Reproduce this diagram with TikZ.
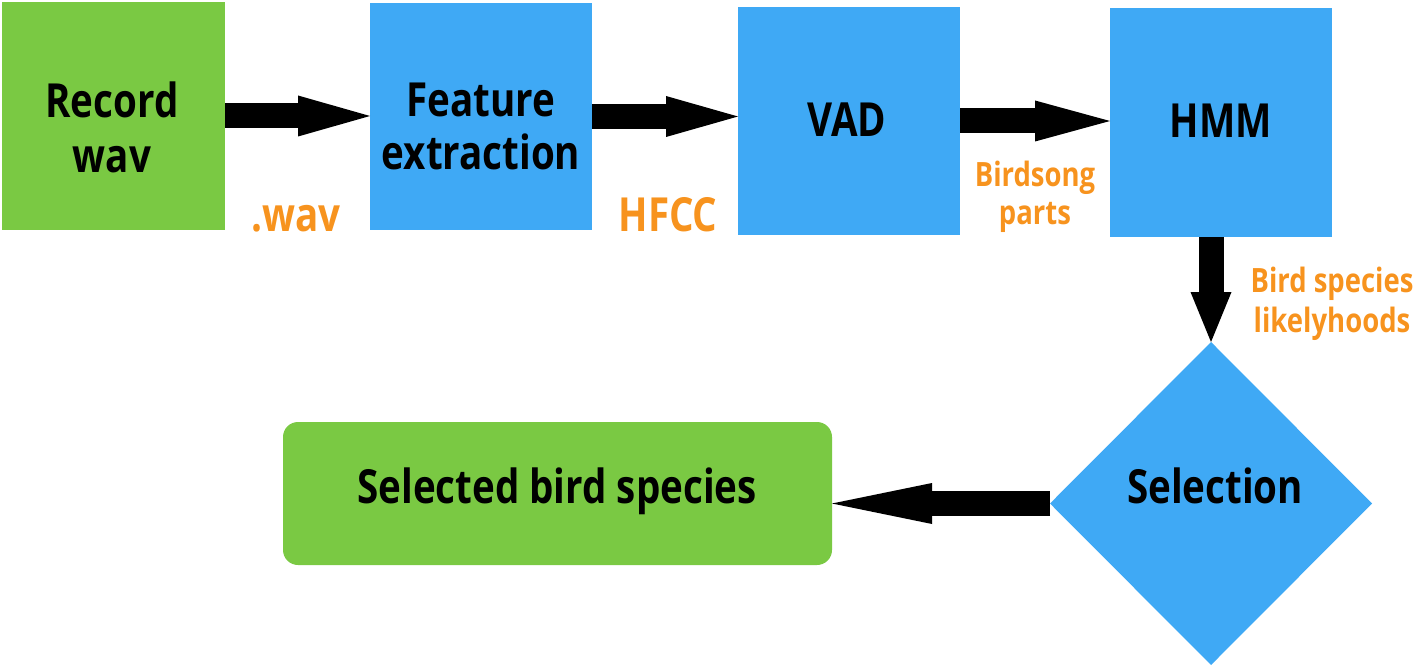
\documentclass[tikz,border=0pt]{standalone}
\usepackage{fontspec}
\setmainfont{Open Sans}[FakeStretch=0.82]
\usetikzlibrary{arrows.meta,shapes.geometric}
\definecolor{bgreen}{HTML}{7AC943}
\definecolor{bblue}{HTML}{3FA9F5}
\definecolor{borange}{HTML}{F7931E}
\begin{document}
\begin{tikzpicture}[x=1pt,y=-1pt,
  blockbox/.style={inner sep=0pt, outer sep=0pt, draw=none},
  greenbox/.style={blockbox, fill=bgreen},
  bluebox/.style={blockbox, fill=bblue},
  lbl/.style={anchor=base, inner sep=0pt, text=black, font=\fontsize{47}{56}\selectfont\bfseries},
  olbl/.style={anchor=base, inner sep=0pt, text=borange, font=\fontsize{47}{56}\selectfont\bfseries},
  slbl/.style={anchor=base, inner sep=0pt, text=borange, font=\fontsize{33.5}{40}\selectfont\bfseries},
  arr/.style={line width=25pt, draw=black, -{Triangle[length=#1,width=41pt,line width=0pt]}},
  arr/.default=72pt
]
\useasboundingbox (0,0) rectangle (1418,668);
% blocks
\node[greenbox, minimum width=223pt, minimum height=228pt] (rec) at (113.5,116) {};
\node[bluebox, minimum width=222pt, minimum height=227pt] (fe) at (481,116.5) {};
\node[bluebox, minimum width=222pt, minimum height=228pt] (vad) at (849,121) {};
\node[bluebox, minimum width=222pt, minimum height=229pt] (hmm) at (1221,122.5) {};
\node[bluebox, diamond, minimum width=322pt, minimum height=323pt] (sel) at (1211,503.5) {};
\node[greenbox, rounded corners=15pt, minimum width=549pt, minimum height=143pt] (out) at (557.5,493.5) {};
% block texts
\node[lbl] (rec1) at (112,118) {Record};
\node[lbl] (rec2) at (112,173) {wav};
\node[lbl] (fe1) at (481,117) {Feature};
\node[lbl] (fe2) at (481,170) {extraction};
\node[lbl] (vadt) at (847,137) {VAD};
\node[lbl] (hmmt) at (1221,138) {HMM};
\node[lbl] (selt) at (1215,503) {Selection};
\node[lbl] (outt) at (557,503) {Selected bird species};
% connector labels
\node[olbl] (l1) at (296,232) {.wav};
\node[olbl] (l2) at (668,232) {HFCC};
\node[slbl] (l3a) at (1035,187) {Birdsong};
\node[slbl] (l3b) at (1035,225) {parts};
\node[slbl] (l4a) at (1332,292) {Bird species};
\node[slbl] (l4b) at (1332,332) {likelyhoods};
% connectors
\draw[arr] (rec.east) -- (rec.east -| fe.west);
\draw[arr] (fe.east) -- (fe.east -| vad.west);
\draw[arr=75pt] (vad.east) -- (vad.east -| hmm.west);
\draw[arr=50pt] (sel.north |- hmm.south) -- (sel.north);
\draw[arr=100pt] (sel.west) -- (sel.west -| out.east);
\end{tikzpicture}
\end{document}
